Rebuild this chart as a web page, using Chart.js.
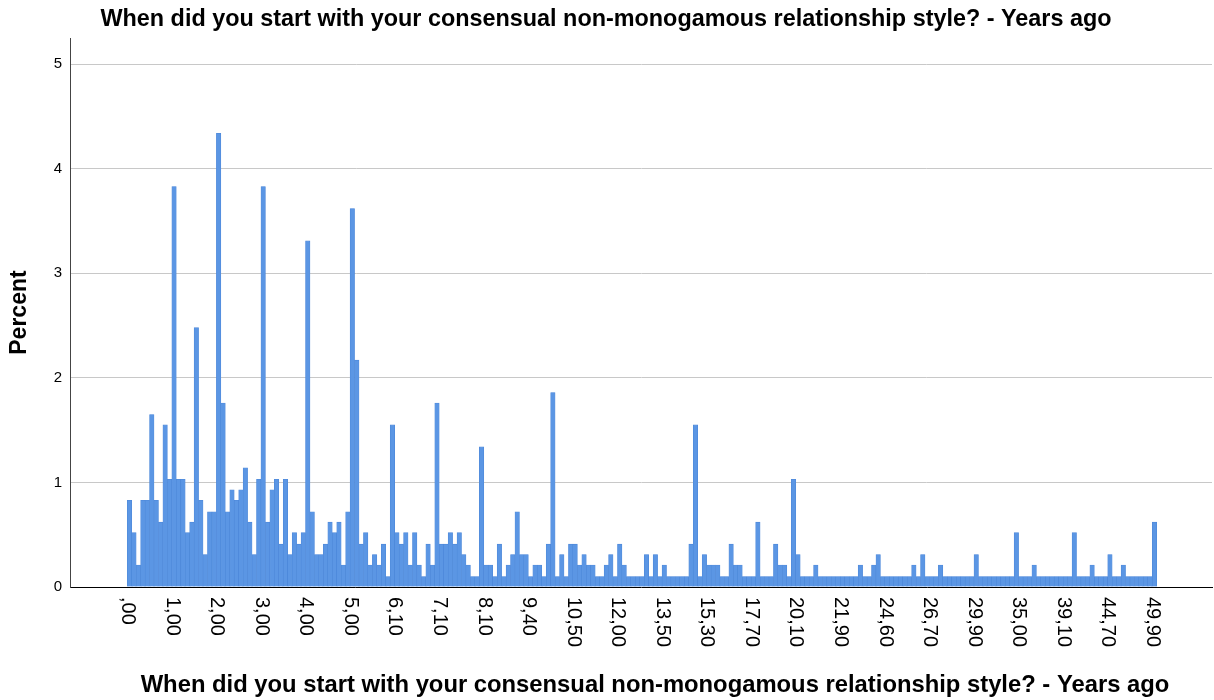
<!DOCTYPE html>
<html>
<head>
<meta charset="utf-8">
<title>Years ago</title>
<script src="https://cdn.jsdelivr.net/npm/chart.js@4.4.1/dist/chart.umd.min.js"></script>
<style>
  html, body { margin: 0; padding: 0; background: #fff; }
  #wrap { width: 1214px; height: 700px; }
</style>
</head>
<body>
<div id="wrap"><canvas id="myChart" width="1214" height="700"></canvas></div>
<script>
// chart texts
var chartTitle = 'When did you start with your consensual non-monogamous relationship style? - Years ago';
var xTitle = 'When did you start with your consensual non-monogamous relationship style? - Years ago';
var yTitle = 'Percent';

// every 10th category gets a label
var tickLabels = [',00', '1,00', '2,00', '3,00', '4,00', '5,00', '6,10', '7,10', '8,10', '9,40',
  '10,50', '12,00', '13,50', '15,30', '17,70', '20,10', '21,90', '24,60', '26,70', '29,90',
  '35,00', '39,10', '44,70', '49,90'];

// percent for each of the 231 answer categories, left to right
var percentValues = [
  0.83, 0.52, 0.21, 0.83, 0.83, 1.65, 0.83, 0.62, 1.55, 1.03,
  3.83, 1.03, 1.03, 0.52, 0.62, 2.48, 0.83, 0.31, 0.72, 0.72,
  4.34, 1.76, 0.72, 0.93, 0.83, 0.93, 1.14, 0.62, 0.31, 1.03,
  3.83, 0.62, 0.93, 1.03, 0.41, 1.03, 0.31, 0.52, 0.41, 0.52,
  3.31, 0.72, 0.31, 0.31, 0.41, 0.62, 0.52, 0.62, 0.21, 0.72,
  3.62, 2.17, 0.41, 0.52, 0.21, 0.31, 0.21, 0.41, 0.10, 1.55,
  0.52, 0.41, 0.52, 0.21, 0.52, 0.21, 0.10, 0.41, 0.21, 1.76,
  0.41, 0.41, 0.52, 0.41, 0.52, 0.31, 0.21, 0.10, 0.10, 1.34,
  0.21, 0.21, 0.10, 0.41, 0.10, 0.21, 0.31, 0.72, 0.31, 0.31,
  0.10, 0.21, 0.21, 0.10, 0.41, 1.86, 0.10, 0.31, 0.10, 0.41,
  0.41, 0.21, 0.31, 0.21, 0.21, 0.10, 0.10, 0.21, 0.31, 0.10,
  0.41, 0.21, 0.10, 0.10, 0.10, 0.10, 0.31, 0.10, 0.31, 0.10,
  0.21, 0.10, 0.10, 0.10, 0.10, 0.10, 0.41, 1.55, 0.10, 0.31,
  0.21, 0.21, 0.21, 0.10, 0.10, 0.41, 0.21, 0.21, 0.10, 0.10,
  0.10, 0.62, 0.10, 0.10, 0.10, 0.41, 0.21, 0.21, 0.10, 1.03,
  0.31, 0.10, 0.10, 0.10, 0.21, 0.10, 0.10, 0.10, 0.10, 0.10,
  0.10, 0.10, 0.10, 0.10, 0.21, 0.10, 0.10, 0.21, 0.31, 0.10,
  0.10, 0.10, 0.10, 0.10, 0.10, 0.10, 0.21, 0.10, 0.31, 0.10,
  0.10, 0.10, 0.21, 0.10, 0.10, 0.10, 0.10, 0.10, 0.10, 0.10,
  0.31, 0.10, 0.10, 0.10, 0.10, 0.10, 0.10, 0.10, 0.10, 0.52,
  0.10, 0.10, 0.10, 0.21, 0.10, 0.10, 0.10, 0.10, 0.10, 0.10,
  0.10, 0.10, 0.52, 0.10, 0.10, 0.10, 0.21, 0.10, 0.10, 0.10,
  0.31, 0.10, 0.10, 0.21, 0.10, 0.10, 0.10, 0.10, 0.10, 0.10,
  0.62
];

var fontFamily = '"Liberation Sans", Arial, sans-serif';
Chart.defaults.font.family = fontFamily;
Chart.defaults.color = '#000';

// labels under the x axis (turned to read downwards) and the x axis title
var xLabelsPlugin = {
  id: 'xLabels',
  afterDraw: function (chart) {
    var ctx = chart.ctx;
    var xScale = chart.scales.x;
    ctx.save();
    ctx.font = '20px ' + fontFamily;
    ctx.fillStyle = '#000';
    ctx.textAlign = 'left';
    ctx.textBaseline = 'middle';
    tickLabels.forEach(function (lbl, i) {
      var x = xScale.getPixelForValue(i * 10) - 2;
      ctx.save();
      ctx.translate(x, xScale.top + 10);
      ctx.rotate(Math.PI / 2);
      ctx.fillText(lbl, 0, 0);
      ctx.restore();
    });
    ctx.font = 'bold 23.8px ' + fontFamily;
    ctx.textAlign = 'center';
    ctx.fillText(xTitle, 655, 685);
    ctx.restore();
  }
};

var ctx = document.getElementById('myChart').getContext('2d');

var myBarChart = new Chart(ctx, {
  type: 'bar',
  data: {
    datasets: [{
      label: yTitle,
      data: percentValues.map(function (v, i) { return { x: i, y: v }; }),
      backgroundColor: '#5b96e4',
      borderColor: '#4c87d8',
      borderWidth: 0.6,
      barPercentage: 1,
      categoryPercentage: 1
    }]
  },
  options: {
    responsive: false,
    animation: false,
    layout: {
      padding: { left: 0, right: 2, top: 0, bottom: 0 }
    },
    plugins: {
      legend: { display: false },
      tooltip: { enabled: false },
      title: {
        display: true,
        text: chartTitle,
        color: '#000',
        font: { size: 23.4, weight: 'bold' },
        padding: { top: 6, bottom: 4 }
      }
    },
    scales: {
      x: {
        type: 'linear',
        offset: false,
        min: -13.35,
        max: 242.9,
        ticks: { display: false, stepSize: 10 },
        grid: { display: false },
        border: { display: true, color: '#000', width: 1 },
        afterFit: function (scale) { scale.height = 113; }
      },
      y: {
        min: 0,
        max: 5.25,
        ticks: {
          stepSize: 1,
          padding: 8,
          color: '#000',
          font: { size: 15 },
          callback: function (v) { return Number.isInteger(v) ? v : ''; }
        },
        grid: {
          drawTicks: false,
          color: function (c) {
            return (c.tick && Number.isInteger(c.tick.value) && c.tick.value > 0) ? '#c8c8c8' : 'rgba(0,0,0,0)';
          }
        },
        border: { color: '#444', width: 1 },
        title: {
          display: true,
          text: yTitle,
          color: '#000',
          font: { size: 23, weight: 'bold' },
          padding: { top: 6, bottom: 0 }
        },
        afterFit: function (scale) { scale.width = 70; }
      }
    }
  },
  plugins: [xLabelsPlugin]
});
</script>
</body>
</html>
